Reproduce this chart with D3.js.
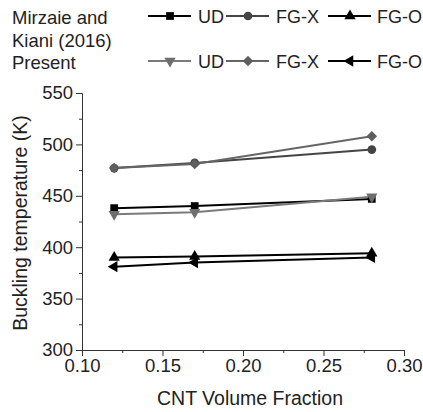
<!DOCTYPE html>
<meta charset="utf-8">
<script src="https://d3js.org/d3.v7.min.js"></script>
<style>
  body { margin: 0; background: #fff; }
  text { font-family: 'Liberation Sans', Arial, sans-serif; }
</style>
<body>
<div id="chart"></div>
<script>

// data
var fractions = [0.12, 0.17, 0.28];
var mirzaieUD  = [438, 440, 447];
var mirzaieFGX = [477, 482, 495];
var mirzaieFGO = [390, 391, 394];
var presentUD  = [432, 434, 449];
var presentFGX = [477, 481, 508];
var presentFGO = [381, 385, 390];
var xTicks = [0.10, 0.15, 0.20, 0.25, 0.30];
var yTicks = [300, 350, 400, 450, 500, 550];

var W = 423, H = 412;
var margin = {top: 93, right: 19, bottom: 62, left: 82};

var svg = d3.select("#chart").append("svg")
  .attr("width", W).attr("height", H);

var x = d3.scaleLinear().domain([0.10, 0.30]).range([margin.left, W - margin.right]);
var y = d3.scaleLinear().domain([300, 550]).range([H - margin.bottom, margin.top]);

// series: marker shape, marker colour, line colour
var series = [
  {name: "UD",   vals: mirzaieUD,  sym: d3.symbolSquare,   rot: 0,   size: 60,  fill: "#000", line: "#000"},
  {name: "FG-X", vals: mirzaieFGX, sym: d3.symbolCircle,   rot: 0,   size: 60,  fill: "#444", line: "#444"},
  {name: "FG-O", vals: mirzaieFGO, sym: d3.symbolTriangle, rot: 0,   size: 55,  fill: "#000", line: "#000"},
  {name: "UD",   vals: presentUD,  sym: d3.symbolTriangle, rot: 180, size: 55,  fill: "#6e6e6e", line: "#7a7a7a"},
  {name: "FG-X", vals: presentFGX, sym: d3.symbolSquare,   rot: 45,  size: 55,  fill: "#5e5e5e", line: "#666"},
  {name: "FG-O", vals: presentFGO, sym: d3.symbolTriangle, rot: -90, size: 55,  fill: "#000", line: "#000"}
];

// axes
svg.append("g")
  .attr("transform", "translate(0," + (H - margin.bottom) + ")")
  .call(d3.axisBottom(x).tickValues(xTicks).tickFormat(d3.format(".2f")).tickSizeOuter(0).tickSize(6).tickPadding(3));
svg.append("g")
  .attr("transform", "translate(" + margin.left + ",0)")
  .call(d3.axisLeft(y).tickValues(yTicks).tickSizeOuter(0).tickSize(6).tickPadding(3));

// minor ticks
svg.append("g")
  .attr("transform", "translate(0," + (H - margin.bottom) + ")")
  .call(d3.axisBottom(x).tickValues([0.125, 0.175, 0.225, 0.275]).tickFormat("").tickSizeOuter(0).tickSize(3))
  .select(".domain").remove();
svg.append("g")
  .attr("transform", "translate(" + margin.left + ",0)")
  .call(d3.axisLeft(y).tickValues([325, 375, 425, 475, 525]).tickFormat("").tickSizeOuter(0).tickSize(3))
  .select(".domain").remove();

svg.selectAll(".tick text").attr("font-size", 18.5).attr("fill", "#222")
  .attr("font-family", "'Liberation Sans', Arial, sans-serif");
svg.selectAll(".domain, .tick line").attr("stroke", "#333");

// axis titles
svg.append("text")
  .attr("x", 250)
  .attr("y", 405)
  .attr("text-anchor", "middle")
  .attr("font-size", 19.5).attr("fill", "#222")
  .text("CNT Volume Fraction");
svg.append("text")
  .attr("transform", "translate(27,223)rotate(-90)")
  .attr("text-anchor", "middle")
  .attr("font-size", 19.5).attr("fill", "#222")
  .text("Buckling temperature (K)");

// lines and markers
var line = d3.line()
  .x(function(d, i) { return x(fractions[i]); })
  .y(function(d) { return y(d); });

series.forEach(function(s) {
  svg.append("path")
    .attr("d", line(s.vals))
    .attr("fill", "none")
    .attr("stroke", s.line)
    .attr("stroke-width", 2);
});
series.forEach(function(s) {
  svg.selectAll(null).data(s.vals).enter().append("path")
    .attr("d", d3.symbol().type(s.sym).size(s.size))
    .attr("transform", function(d, i) {
      return "translate(" + x(fractions[i]) + "," + y(d) + ")rotate(" + s.rot + ")";
    })
    .attr("fill", s.fill);
});

// legend
var rows = [
  {label: ["Mirzaie and", "Kiani (2016)"], cy: 16, items: series.slice(0, 3)},
  {label: ["Present"], cy: 61, items: series.slice(3)}
];
var itemX = [148, 226, 328];
var textX = [198, 276, 377];
rows.forEach(function(r) {
  r.label.forEach(function(t, k) {
    svg.append("text")
      .attr("x", 12).attr("y", r.cy + 8 + k * 23)
      .attr("font-size", 18.5).attr("fill", "#222")
      .text(t);
  });
  r.items.forEach(function(s, j) {
    var x0 = itemX[j];
    svg.append("line")
      .attr("x1", x0).attr("x2", x0 + 43)
      .attr("y1", r.cy).attr("y2", r.cy)
      .attr("stroke", s.line).attr("stroke-width", 2);
    svg.append("path")
      .attr("d", d3.symbol().type(s.sym).size(s.size))
      .attr("transform", "translate(" + (x0 + 22) + "," + r.cy + ")rotate(" + s.rot + ")")
      .attr("fill", s.fill);
    svg.append("text")
      .attr("x", textX[j]).attr("y", r.cy + 7)
      .attr("font-size", 18).attr("fill", "#222")
      .text(s.name);
  });
});

</script>
</body>
